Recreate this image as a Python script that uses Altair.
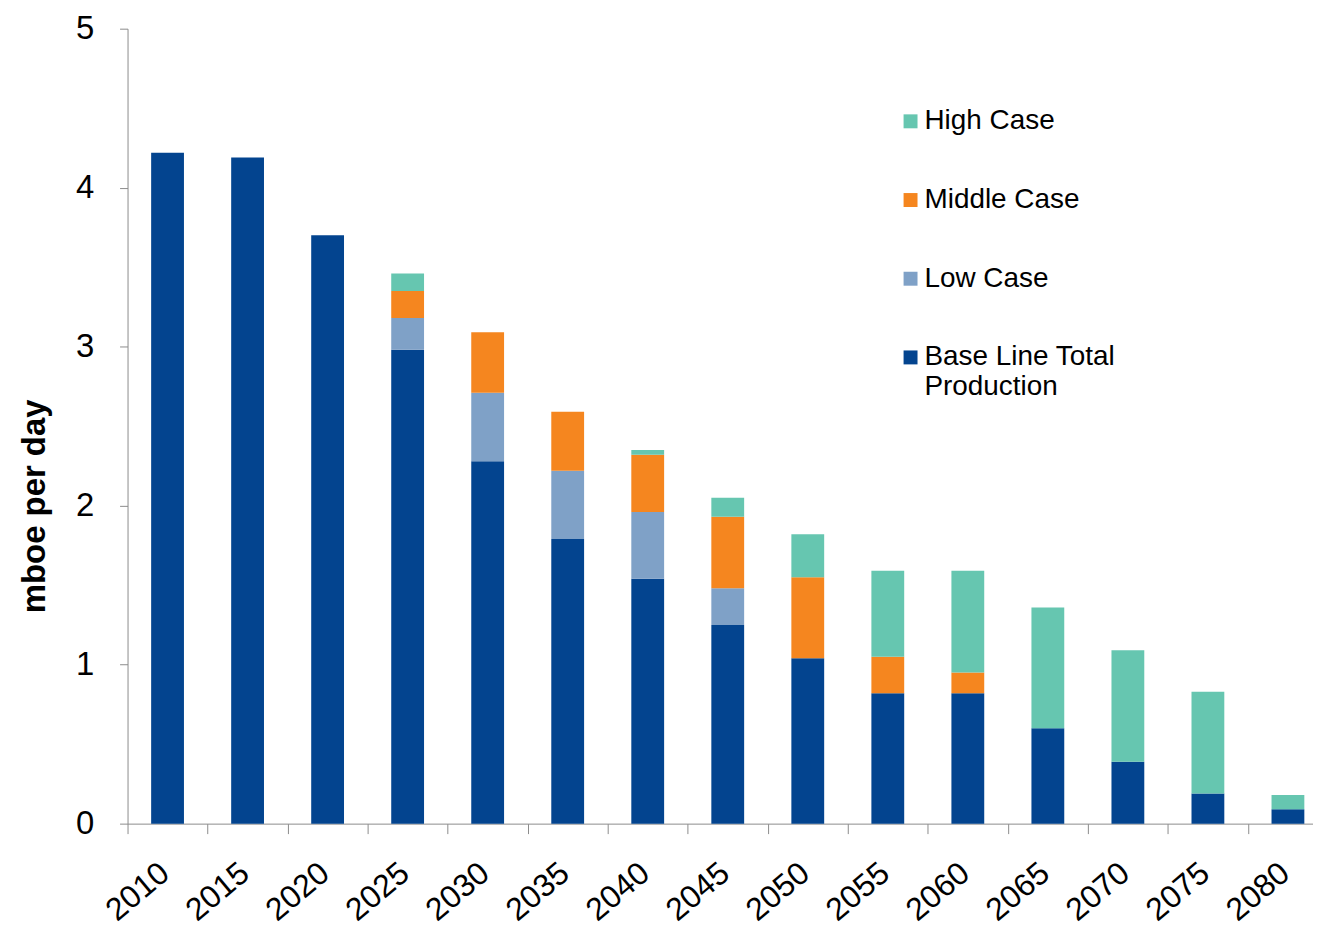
import altair as alt
import pandas as pd

years = ["2010", "2015", "2020", "2025", "2030", "2035", "2040", "2045",
         "2050", "2055", "2060", "2065", "2070", "2075", "2080"]
base = [4.22, 4.19, 3.70, 2.98, 2.28, 1.79, 1.54, 1.25, 1.04, 0.82, 0.82, 0.60, 0.39, 0.19, 0.09]
low = [0, 0, 0, 0.20, 0.43, 0.43, 0.42, 0.23, 0, 0, 0, 0, 0, 0, 0]
middle = [0, 0, 0, 0.17, 0.38, 0.37, 0.36, 0.45, 0.51, 0.23, 0.13, 0, 0, 0, 0]
high = [0, 0, 0, 0.11, 0, 0, 0.03, 0.12, 0.27, 0.54, 0.64, 0.76, 0.70, 0.64, 0.09]

series_names = ["Base Line Total Production", "Low Case", "Middle Case", "High Case"]
legend_order = ["High Case", "Middle Case", "Low Case", "Base Line Total Production"]
colors = ["#66C6B0", "#F5861F", "#7FA1C7", "#03448F"]

rows = []
for rank, (name, vals) in enumerate(zip(series_names, [base, low, middle, high])):
    for y, v in zip(years, vals):
        if v > 0:
            rows.append({"year": y, "series": name, "value": v, "rank": rank})
df = pd.DataFrame(rows)

FONT = "Liberation Sans"

chart = alt.Chart(df).mark_bar().encode(
    x=alt.X(
        "year:N",
        sort=years,
        scale=alt.Scale(range=[0, 1205], paddingInner=0.59, paddingOuter=0.295, round=False),
        axis=alt.Axis(
            title=None,
            grid=False,
            domainColor="#8c8c8c",
            tickColor="#8c8c8c",
            tickSize=10,
            bandPosition=0.5,
            tickOffset=-40.17,
            labelOffset=37,
            labelAngle=320,
            labelAlign="right",
            labelBaseline="middle",
            labelPadding=35,
            labelFont=FONT,
            labelFontSize=32,
            labelColor="#000000",
        ),
    ),
    y=alt.Y(
        "value:Q",
        stack="zero",
        scale=alt.Scale(domain=[0, 5], nice=False),
        axis=alt.Axis(
            title="mboe per day",
            titleFont=FONT,
            titleFontSize=33,
            titleFontWeight="bold",
            titleColor="#000000",
            titlePadding=24,
            titleY=479,
            values=[0, 1, 2, 3, 4, 5],
            format="d",
            grid=False,
            domainColor="#8c8c8c",
            tickColor="#8c8c8c",
            tickSize=8,
            labelFont=FONT,
            labelFontSize=33,
            labelColor="#000000",
            labelPadding=26,
        ),
    ),
    color=alt.Color(
        "series:N",
        scale=alt.Scale(domain=legend_order, range=colors),
        legend=alt.Legend(
            title=None,
            orient="none",
            legendX=772,
            legendY=79,
            symbolType="square",
            symbolSize=196,
            symbolStrokeWidth=0,
            labelFont=FONT,
            labelFontSize=28,
            labelColor="#000000",
            labelOffset=0,
            labelLimit=500,
            rowPadding=51,
            padding=0,
            labelExpr="datum.label == 'Base Line Total Production' ? ['Base Line Total', 'Production'] : datum.label",
        ),
    ),
    order=alt.Order("rank:Q", sort="ascending"),
).properties(
    width=1190,
    height=798,
    autosize=alt.AutoSizeParams(type="none"),
    padding={"left": 120, "top": 19, "right": 0, "bottom": 102},
).configure_view(stroke=None)

chart.save("out.html", embed_options={"renderer": "svg", "actions": False})
